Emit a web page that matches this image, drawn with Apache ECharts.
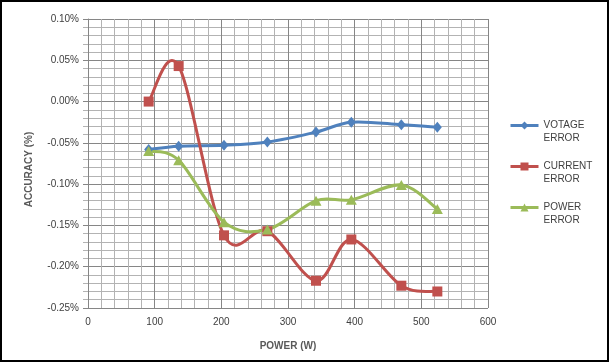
<!DOCTYPE html>
<html>
<head>
<meta charset="utf-8">
<script src="https://cdn.jsdelivr.net/npm/echarts@6/dist/echarts.min.js"></script>
<style>
html,body{margin:0;padding:0;background:#fff;}
#c{width:610px;height:363px;}
</style>
</head>
<body>
<div id="c"></div>
<script>
var powerW = [91, 136, 204, 269, 342, 395, 470, 524];
var voltageError = [-0.058, -0.054, -0.053, -0.049, -0.037, -0.025, -0.028, -0.031];
var currentError = [0.000, 0.043, -0.162, -0.157, -0.217, -0.167, -0.223, -0.230];
var powerError = [-0.060, -0.071, -0.146, -0.155, -0.120, -0.119, -0.101, -0.130];
var seriesNames = ['VOTAGE\nERROR', 'CURRENT\nERROR', 'POWER\nERROR'];
var colors = ['#4F81BD', '#C0504D', '#9BBB59'];

function pairs(xs, ys) { return xs.map(function (x, i) { return [x, ys[i]]; }); }

// Excel-like smoothed line (Catmull-Rom as Bezier) drawn from the data via the axes
function splineRender(color) {
  return function (params, api) {
    var i = params.dataIndexInside;
    var n = params.dataInsideLength;
    if (i >= n - 1) return {type: 'group', children: []};
    function pt(j) {
      j = Math.max(0, Math.min(n - 1, j));
      return api.coord([api.value(0, j), api.value(1, j)]);
    }
    var p0 = pt(i - 1), p1 = pt(i), p2 = pt(i + 1), p3 = pt(i + 2);
    return {
      type: 'bezierCurve',
      shape: {
        x1: p1[0], y1: p1[1], x2: p2[0], y2: p2[1],
        cpx1: p1[0] + (p2[0] - p0[0]) / 6, cpy1: p1[1] + (p2[1] - p0[1]) / 6,
        cpx2: p2[0] - (p3[0] - p1[0]) / 6, cpy2: p2[1] - (p3[1] - p1[1]) / 6
      },
      style: {stroke: color, lineWidth: 3, fill: null, lineCap: 'round'}
    };
  };
}

var font = '"Liberation Sans", Arial, sans-serif';
var chart = echarts.init(document.getElementById('c'), null, {renderer: 'canvas'});
var axisGray = '#868686';
var minorGray = '#b3b3b3';
var textColor = '#404040';

var ys = [voltageError, currentError, powerError];
var symbols = ['diamond', 'rect', 'triangle'];
var symbolSizes = [[9, 11], 10, [11, 10]];
var series = [];
for (var k = 0; k < 3; k++) {
  series.push({
    name: 'curve' + k, type: 'custom', z: 1, silent: true,
    renderItem: splineRender(colors[k]),
    data: pairs(powerW, ys[k]),
    encode: {x: 0, y: 1}
  });
}
for (var k2 = 0; k2 < 3; k2++) {
  series.push({
    name: seriesNames[k2], type: 'line', z: 3, smooth: false,
    data: pairs(powerW, ys[k2]),
    symbol: symbols[k2], symbolSize: symbolSizes[k2], color: colors[k2],
    lineStyle: {width: 3, color: colors[k2], opacity: 0},
    itemStyle: {color: colors[k2]}
  });
}

chart.setOption({
  animation: false,
  backgroundColor: '#fff',
  graphic: [{
    type: 'rect', shape: {x: 1, y: 1, width: 607, height: 360},
    style: {fill: 'none', stroke: '#000', lineWidth: 2}, z: 100
  }],
  grid: {left: 88, right: 122, top: 19, bottom: 55, containLabel: false},
  legend: {
    orient: 'vertical', left: 509, top: 106, padding: 0,
    itemWidth: 28, itemHeight: 10, itemGap: 2,
    data: seriesNames,
    formatter: function (name) { return '\n' + name; },
    lineStyle: {opacity: 1, width: 3},
    textStyle: {fontFamily: font, fontSize: 10, color: textColor, lineHeight: 13}
  },
  xAxis: {
    type: 'value', min: 0, max: 600, interval: 100,
    name: 'POWER (W)', nameLocation: 'middle', nameGap: 33,
    nameTextStyle: {fontFamily: font, fontSize: 10, fontWeight: 'bold', color: '#595959'},
    axisLine: {show: true, lineStyle: {color: axisGray, width: 1}},
    axisTick: {show: true, length: 5, lineStyle: {color: axisGray}},
    minorTick: {show: true, splitNumber: 5, length: 5, lineStyle: {color: minorGray}},
    axisLabel: {fontFamily: font, fontSize: 10, color: textColor, margin: 9},
    splitLine: {show: true, lineStyle: {color: axisGray, width: 1}},
    minorSplitLine: {show: true, lineStyle: {color: minorGray, width: 1}}
  },
  yAxis: {
    type: 'value', min: -0.25, max: 0.10, interval: 0.05,
    name: 'ACCURACY (%)', nameLocation: 'middle', nameGap: 54,
    nameTextStyle: {fontFamily: font, fontSize: 10, fontWeight: 'bold', color: '#595959', padding: [0, 12, 0, 0]},
    axisLine: {show: true, lineStyle: {color: axisGray, width: 1}},
    axisTick: {show: true, length: 5, lineStyle: {color: axisGray}},
    minorTick: {show: true, splitNumber: 5, length: 5, lineStyle: {color: minorGray}},
    axisLabel: {fontFamily: font, fontSize: 10, color: textColor, margin: 9,
      formatter: function (v) { return v.toFixed(2) + '%'; }},
    splitLine: {show: true, lineStyle: {color: axisGray, width: 1}},
    minorSplitLine: {show: true, lineStyle: {color: minorGray, width: 1}}
  },
  series: series
});
</script>
</body>
</html>
